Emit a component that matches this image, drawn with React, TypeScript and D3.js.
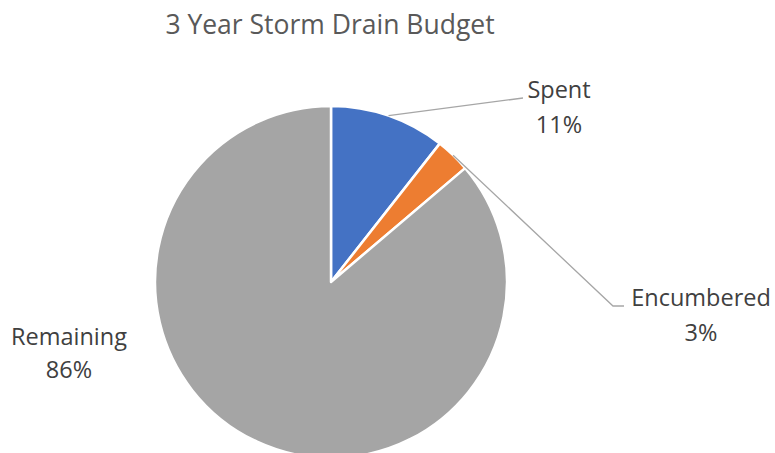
import React from "react";
import * as d3 from "d3";

const categories = ["Spent", "Encumbered", "Remaining"];
const values = [10.6, 3.2, 86.2];
const labelsPct = ["11%", "3%", "86%"];
const colors = ["#4472C4", "#ED7D31", "#A5A5A5"];

const W = 775;
const H = 453;
const cx = 331;
const cy = 282;
const R = 176;
const font = "'Open Sans', 'Noto Sans', sans-serif";

export default function App() {
  const pie = d3.pie<number>().sort(null).value((d) => d);
  const arcs = pie(values);
  const arcGen = d3.arc<d3.PieArcDatum<number>>().innerRadius(0).outerRadius(R);
  const edge = (a: number) => [Math.sin(a) * R, -Math.cos(a) * R];

  const mid = (i: number) => (arcs[i].startAngle + arcs[i].endAngle) / 2;
  const s0 = edge(mid(0));
  const e0 = edge(mid(1));

  return (
    <svg width={W} height={H} style={{ position: "absolute", left: 0, top: 0 }}>
      <rect width={W} height={H} fill="#fff" />
      <text x={330} y={34} textAnchor="middle" fontFamily={font} fontSize={26.5} fill="#595959">
        3 Year Storm Drain Budget
      </text>
      <g transform={`translate(${cx},${cy})`}>
        {arcs.map((a, i) => (
          <path key={categories[i]} d={arcGen(a) || ""} fill={colors[i]} stroke="#fff" strokeWidth={2.5} strokeLinejoin="round" />
        ))}
        <polyline points={`${s0[0]},${s0[1]} ${523 - cx},${98 - cy}`} fill="none" stroke="#A6A6A6" strokeWidth={1.3} />
        <polyline points={`${e0[0]},${e0[1]} ${613 - cx},${306 - cy} ${624 - cx},${306 - cy}`} fill="none" stroke="#A6A6A6" strokeWidth={1.3} />
      </g>
      <g fontFamily={font} fontSize={23.5} fill="#404040" textAnchor="middle">
        <text x={559} y={98}>{categories[0]}</text>
        <text x={559} y={133}>{labelsPct[0]}</text>
        <text x={701} y={306}>{categories[1]}</text>
        <text x={701} y={341}>{labelsPct[1]}</text>
        <text x={69} y={345}>{categories[2]}</text>
        <text x={69} y={378}>{labelsPct[2]}</text>
      </g>
    </svg>
  );
}
